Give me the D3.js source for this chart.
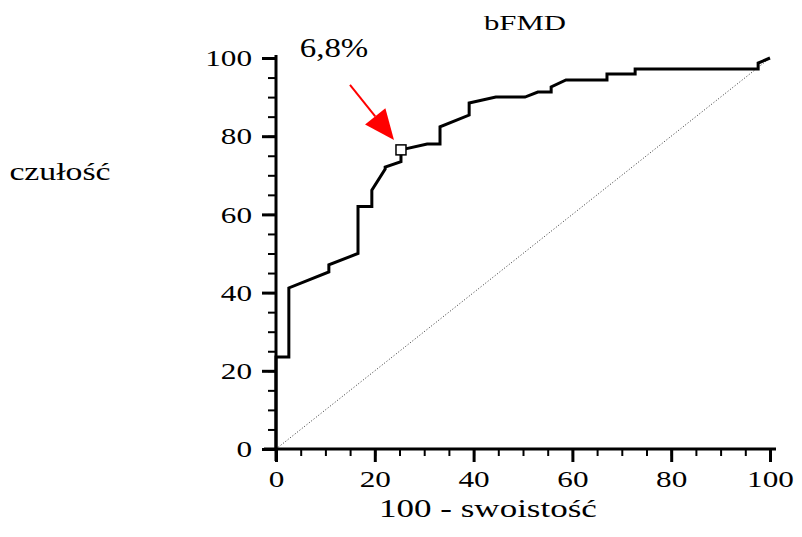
<!DOCTYPE html>
<html>
<head>
<meta charset="utf-8">
<script src="https://cdn.jsdelivr.net/npm/d3@7"></script>
<style>
  body { margin: 0; background: #fff; }
  svg text { font-family: "Liberation Serif", "Times New Roman", serif; fill: #000; }
</style>
</head>
<body>
<svg id="chart" width="802" height="537"></svg>
<script>
// ROC curve points, 100 - specificity (x) and sensitivity (y)
var fpr = [0, 0, 2.6, 2.6, 10.7, 10.7, 16.6, 16.6, 19.4, 19.4, 22.1, 22.1, 25.3, 25.3, 30.6, 33.2, 33.2, 39.1, 39.1, 44.5, 50.4, 53.0, 55.7, 55.7, 58.7, 67.0, 67.0, 72.7, 72.7, 97.6, 97.6, 100];
var tpr = [0, 23.5, 23.5, 41.2, 45.3, 47.1, 50.0, 62.0, 62.0, 66.2, 71.6, 72.1, 73.5, 76.5, 78.0, 78.0, 82.4, 85.4, 88.5, 90.0, 90.0, 91.3, 91.3, 92.6, 94.4, 94.4, 95.9, 95.9, 97.2, 97.2, 98.7, 100];

// optimal cut-off point
var cutX = 25.3, cutY = 76.5, cutLabel = "6,8%";

var majorTicks = [0, 20, 40, 60, 80, 100];
var minorTicks = d3.range(0, 101, 5);

var title = "bFMD";
var xTitle = "100 - swoistość";
var yTitle = "czułość";

var svg = d3.select("#chart");
var x = d3.scaleLinear().domain([0, 100]).range([276, 770]);
var y = d3.scaleLinear().domain([0, 100]).range([449, 58]);

// text in the picture is wider than normal Times
function widen(sel, k) {
  sel.each(function() {
    var w = this.getComputedTextLength();
    d3.select(this).attr("textLength", w * k).attr("lengthAdjust", "spacingAndGlyphs");
  });
}

// axes: minor ticks, then major ticks with labels
svg.append("g").attr("transform", "translate(0," + y(0) + ")")
  .call(d3.axisBottom(x).tickValues(minorTicks).tickSize(7).tickFormat(""))
  .call(g => g.select(".domain").remove())
  .selectAll("line").attr("stroke-width", 2);
svg.append("g").attr("transform", "translate(" + x(0) + ",0)")
  .call(d3.axisLeft(y).tickValues(minorTicks).tickSize(8).tickFormat(""))
  .call(g => g.select(".domain").remove())
  .selectAll("line").attr("stroke-width", 2);

var xAxis = svg.append("g").attr("transform", "translate(0," + y(0) + ")")
  .call(d3.axisBottom(x).tickValues(majorTicks).tickSize(13).tickPadding(8));
xAxis.select(".domain").remove();
xAxis.selectAll("line").attr("stroke-width", 3);
xAxis.selectAll("text").attr("font-size", 24).attr("font-family", "Liberation Serif").call(widen, 1.3);

var yAxis = svg.append("g").attr("transform", "translate(" + x(0) + ",0)")
  .call(d3.axisLeft(y).tickValues(majorTicks).tickSize(14).tickPadding(10));
yAxis.select(".domain").remove();
yAxis.selectAll("line").attr("stroke-width", 3);
yAxis.selectAll("text").attr("font-size", 24).attr("font-family", "Liberation Serif").call(widen, 1.3);

// axis lines
svg.append("line").attr("x1", x(0) - 12).attr("x2", x(100) + 6)
  .attr("y1", y(0)).attr("y2", y(0)).attr("stroke", "#000").attr("stroke-width", 3);
svg.append("line").attr("x1", x(0)).attr("x2", x(0))
  .attr("y1", y(100) - 3).attr("y2", y(0) + 12).attr("stroke", "#000").attr("stroke-width", 3);

// reference diagonal
svg.append("line").attr("x1", x(0)).attr("y1", y(0)).attr("x2", x(100)).attr("y2", y(100))
  .attr("stroke", "#333").attr("stroke-width", 1).attr("stroke-dasharray", "1,2");

// ROC curve
var line = d3.line().x(d => x(d[0])).y(d => y(d[1]));
svg.append("path").datum(d3.zip(fpr, tpr)).attr("d", line)
  .attr("fill", "none").attr("stroke", "#000").attr("stroke-width", 3).attr("stroke-linejoin", "miter");

// cut-off marker
var cx = x(cutX), cy = y(cutY);
svg.append("rect").attr("x", cx - 5).attr("y", cy - 5).attr("width", 10).attr("height", 10)
  .attr("fill", "#fff").attr("stroke", "#000").attr("stroke-width", 1.5);

// red arrow pointing at it
var tipX = cx - 7, tipY = cy - 10;
var startX = cx - 51, startY = cy - 65;
var ang = Math.atan2(tipY - startY, tipX - startX);
var headLen = 30, headW = 13;
var bx = tipX - headLen * Math.cos(ang), by = tipY - headLen * Math.sin(ang);
svg.append("line").attr("x1", startX).attr("y1", startY).attr("x2", bx).attr("y2", by)
  .attr("stroke", "#ff0000").attr("stroke-width", 2);
svg.append("path")
  .attr("d", "M" + tipX + "," + tipY +
    "L" + (bx + headW * Math.sin(ang)) + "," + (by - headW * Math.cos(ang)) +
    "L" + (bx - headW * Math.sin(ang)) + "," + (by + headW * Math.cos(ang)) + "Z")
  .attr("fill", "#ff0000");

svg.append("text").attr("x", 334).attr("y", 57).attr("text-anchor", "middle")
  .attr("font-size", 27).text(cutLabel).call(widen, 1.22);

// titles
svg.append("text").attr("x", 525).attr("y", 30).attr("text-anchor", "middle")
  .attr("font-size", 22).text(title).call(widen, 1.4);
svg.append("text").attr("x", 488).attr("y", 517).attr("text-anchor", "middle")
  .attr("font-size", 25).text(xTitle).call(widen, 1.4);
svg.append("text").attr("x", 60).attr("y", 180).attr("text-anchor", "middle")
  .attr("font-size", 25).text(yTitle).call(widen, 1.35);
</script>
</body>
</html>
